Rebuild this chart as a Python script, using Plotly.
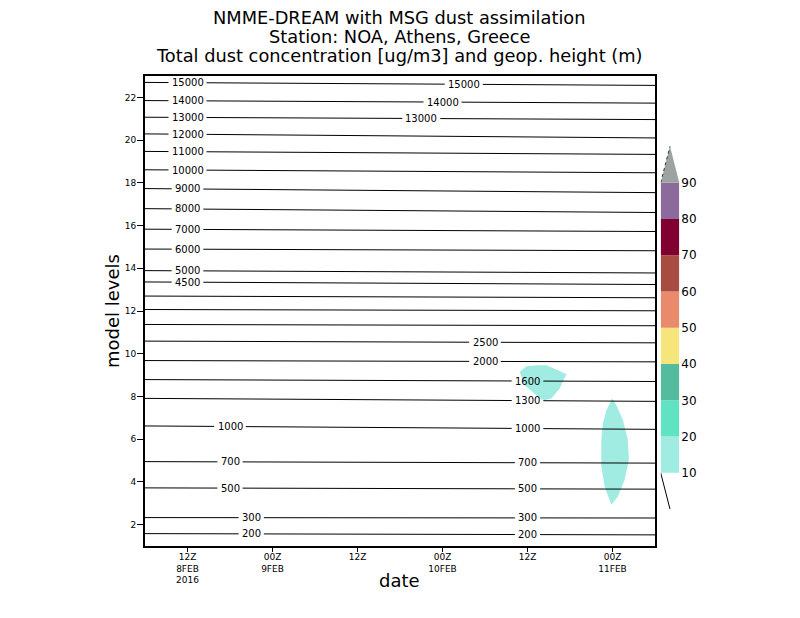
import numpy as np
import pandas as pd
import plotly.graph_objects as go

# ---------------- data ----------------
START = pd.Timestamp("2016-02-08 00:00")

# geopotential-height contour values (m) and the model level where each crosses
# at the start (06Z 8FEB) and end (06Z 11FEB) of the period
gph_values = [200, 300, 500, 700, 1000, 1300, 1600, 2000, 2500, 3000, 3500, 4000,
              4500, 5000, 6000, 7000, 8000, 9000, 10000, 11000, 12000, 13000, 14000, 15000]
gph_level_start = [1.58, 2.33, 3.72, 4.95, 6.62, 7.91, 8.79, 9.68, 10.59, 11.37, 12.07, 12.70,
                   13.36, 13.89, 14.90, 15.83, 16.79, 17.73, 18.61, 19.47, 20.29, 21.07, 21.85, 22.70]
gph_level_end = [1.52, 2.31, 3.66, 4.88, 6.46, 7.77, 8.70, 9.62, 10.51, 11.31, 12.01, 12.62,
                 13.24, 13.78, 14.82, 15.72, 16.61, 17.54, 18.47, 19.33, 20.10, 20.96, 21.73, 22.56]
gph_hours = [6, 78]  # hours since 00Z 8FEB

# dust concentration 10 ug/m3 outlines (hours since 00Z 8FEB, model level)
dust1_hours = [58.90, 59.84, 61.48, 62.67, 64.30, 65.49, 64.54, 63.37, 62.43, 61.96, 59.61]
dust1_level = [9.15, 9.41, 9.46, 9.46, 9.23, 9.04, 8.37, 7.91, 7.83, 7.86, 8.53]
dust2_hours = [71.97, 71.13, 70.65, 70.42, 70.42, 70.89, 71.83, 72.76, 73.71, 74.31, 74.17, 73.47, 72.54]
dust2_level = [7.91, 7.36, 6.74, 5.96, 4.72, 3.79, 2.93, 3.32, 4.10, 5.03, 5.96, 6.90, 7.59]

# colour bar
cbar_levels = [10, 20, 30, 40, 50, 60, 70, 80, 90]
cbar_colors = ["#a0ebe2", "#5fe3c0", "#55bb9f", "#f5e57a", "#e98a6a",
               "#a84c42", "#80002f", "#8c6a9c"]
cbar_over = "#9ca3a0"
dust_color = cbar_colors[0]

# axis ticks
x_tick_hours = [12, 24, 36, 48, 60, 72]
x_tick_text = ["12Z<br>8FEB<br>2016", "00Z<br>9FEB", "12Z", "00Z<br>10FEB", "12Z", "00Z<br>11FEB"]
y_tick_vals = [2, 4, 6, 8, 10, 12, 14, 16, 18, 20, 22]

# contour label positions (hours since 00Z 8FEB)
label_hours = {
    15000: [12, 51], 14000: [12, 48], 13000: [12, 45], 12000: [12], 11000: [12],
    10000: [12], 9000: [12], 8000: [12], 7000: [12], 6000: [12], 5000: [12], 4500: [12],
    2500: [54], 2000: [54], 1600: [60], 1300: [60], 1000: [18, 60], 700: [18, 60],
    500: [18, 60], 300: [21, 60], 200: [21, 60],
}


def to_time(hours):
    return [None if h is None else START + pd.Timedelta(hours=float(h)) for h in hours]


# ---------------- figure ----------------
FONT = "DejaVu Sans"
OFF = 8                      # page body margin in the browser
W, H = 800 - OFF, 618 - OFF
L, T = 145 - OFF, 76 - OFF
R, B = 90, 72
pw = W - L - R
ph = H - T - B
main_dom = [0, 510 / pw]
px_per_hour = 510 / 72.0


def pxx(x):  # screen x -> paper
    return (x - OFF - L) / pw


def pxy(y):  # screen y -> paper
    return (H - B - (y - OFF)) / ph


fig = go.Figure()

# dust shading
for hrs, lev in [(dust1_hours, dust1_level), (dust2_hours, dust2_level)]:
    fig.add_trace(go.Scatter(x=to_time(hrs + hrs[:1]), y=lev + lev[:1], mode="lines",
                             fill="toself", fillcolor=dust_color, line=dict(width=0),
                             hoverinfo="skip", showlegend=False))

annotations = []
for val, y0, y1 in zip(gph_values, gph_level_start, gph_level_end):
    labs = sorted(label_hours.get(val, []))
    txt = str(val)
    half_gap = (len(txt) * 6.4 / 2 + 3) / px_per_hour
    hs = [gph_hours[0]]
    for lh in labs:
        hs += [lh - half_gap, None, lh + half_gap]
    hs.append(gph_hours[1])
    ys = [None if h is None else float(np.interp(h, gph_hours, [y0, y1])) for h in hs]
    fig.add_trace(go.Scatter(x=to_time(hs), y=ys, mode="lines",
                             line=dict(color="black", width=1), connectgaps=False,
                             hoverinfo="skip", showlegend=False))
    for lh in labs:
        annotations.append(dict(x=to_time([lh])[0], y=float(np.interp(lh, gph_hours, [y0, y1])),
                                xref="x", yref="y", text=txt, showarrow=False,
                                font=dict(family=FONT, size=10, color="black"),
                                xanchor="center", yanchor="middle"))

# colour bar segments
fig.add_trace(go.Bar(x=[0] * (len(cbar_levels) - 1),
                     y=[b - a for a, b in zip(cbar_levels[:-1], cbar_levels[1:])],
                     base=cbar_levels[:-1], marker=dict(color=cbar_colors, line=dict(width=0)),
                     width=1, xaxis="x2", yaxis="y2", hoverinfo="skip", showlegend=False))
top = cbar_levels[-1]
fig.add_trace(go.Scatter(x=[-0.5, 0, 0.5, -0.5], y=[top, top + 10, top, top], mode="lines",
                         fill="toself", fillcolor=cbar_over, line=dict(width=0),
                         xaxis="x2", yaxis="y2", hoverinfo="skip", showlegend=False))
fig.add_trace(go.Scatter(x=[-0.5, 0], y=[top, top + 10], mode="lines",
                         line=dict(color="#333333", width=1, dash="dot"),
                         xaxis="x2", yaxis="y2", hoverinfo="skip", showlegend=False))
bot = cbar_levels[0]
fig.add_trace(go.Scatter(x=[-0.5, 0], y=[bot, bot - 10], mode="lines",
                         line=dict(color="black", width=1),
                         xaxis="x2", yaxis="y2", hoverinfo="skip", showlegend=False))

titles = ["NMME-DREAM with MSG dust assimilation",
          "Station: NOA, Athens, Greece",
          "Total dust concentration [ug/m3] and geop. height (m)"]
for i, t in enumerate(titles):
    annotations.append(dict(x=pxx(399), y=pxy(17 + 19 * i), xref="paper", yref="paper",
                            text=t, showarrow=False, xanchor="center", yanchor="middle",
                            font=dict(family=FONT, size=17.8, color="black")))
annotations.append(dict(x=pxx(112), y=pxy(311), xref="paper", yref="paper", text="model levels",
                        textangle=-90, showarrow=False, xanchor="center", yanchor="middle",
                        font=dict(family=FONT, size=18, color="black")))
annotations.append(dict(x=pxx(399), y=pxy(580), xref="paper", yref="paper", text="date",
                        showarrow=False, xanchor="center", yanchor="middle",
                        font=dict(family=FONT, size=18, color="black")))

cb_bottom_px, cb_top_px = 509.5, 146.0
fig.update_layout(
    width=W, height=H,
    margin=dict(l=L, r=R, t=T, b=B, pad=0),
    paper_bgcolor="white", plot_bgcolor="white",
    showlegend=False,
    barmode="overlay",
    annotations=annotations,
    xaxis=dict(domain=main_dom, type="date",
               range=to_time([6, 78]), tickvals=to_time(x_tick_hours), ticktext=x_tick_text,
               ticks="outside", ticklen=4, tickwidth=1, tickcolor="black",
               ticklabelstandoff=-3,
               showgrid=False, zeroline=False, showline=True, linecolor="black",
               linewidth=2, mirror=True,
               tickfont=dict(family=FONT, size=9, color="black")),
    yaxis=dict(range=[1, 23], tickvals=y_tick_vals, ticks="outside", ticklen=6,
               tickwidth=1, tickcolor="black", showgrid=False, zeroline=False,
               ticklabelstandoff=-1,
               showline=True, linecolor="black", linewidth=2, mirror=True,
               tickfont=dict(family=FONT, size=9, color="black")),
    xaxis2=dict(domain=[pxx(660.7), pxx(679.3)], range=[-0.5, 0.5],
                visible=False, anchor="y2", fixedrange=True),
    yaxis2=dict(domain=[pxy(cb_bottom_px), pxy(cb_top_px)], range=[-0.1, 100.1],
                anchor="x2", side="right", tickvals=cbar_levels, ticks="",
                showgrid=False, zeroline=False, ticklabelstandoff=1,
                showline=False, tickfont=dict(family=FONT, size=12, color="black")),
)

fig.write_html("out.html")
